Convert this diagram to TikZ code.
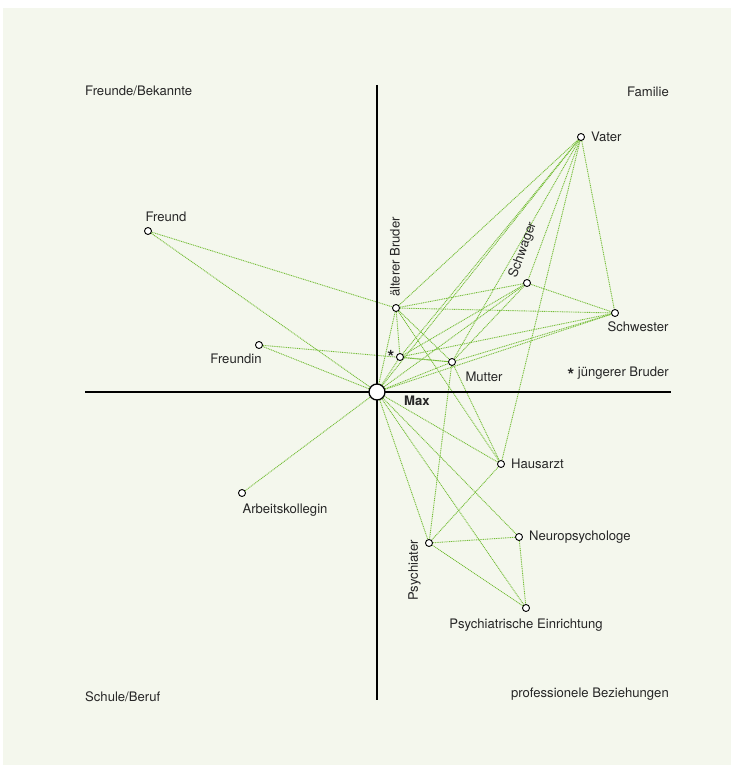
\documentclass[tikz,border=0pt]{standalone}
\usepackage{fontspec}
\setmainfont{TeX Gyre Heros}
\usetikzlibrary{positioning}

\definecolor{paper}{RGB}{244,247,237}
\definecolor{linkgreen}{RGB}{118,190,56}

\pgfdeclarelayer{bg}
\pgfdeclarelayer{links}
\pgfsetlayers{bg,links,main}

\newcommand*{\xleft}{85}
\newcommand*{\xright}{671}
\newcommand*{\ytop}{85}
\newcommand*{\ybottom}{700}
\newcommand*{\younger}{{\fontsize{18}{18}\selectfont\bfseries\raisebox{-0.55ex}{*}}}

\begin{document}
\begin{tikzpicture}
[
	x=1pt, y=-1pt,
	person/.style={circle,draw,fill=white,line width=0.9pt,inner sep=0pt,minimum size=7pt},
	ego/.style={circle,draw,fill=white,line width=1.3pt,inner sep=0pt,minimum size=16pt},
	link/.style={linkgreen,line width=0.9pt,dash pattern=on 1pt off 0.8pt},
	lbl/.style={inner sep=0pt,text=black!85,font=\fontsize{13.1}{15}\selectfont},
	axis/.style={line width=1.3pt,black}
]

	\useasboundingbox (0,0) rectangle (731,765);
	\begin{pgfonlayer}{bg}
		\fill[paper] (3,8) rectangle (731,765);
	\end{pgfonlayer}

	% axes
	\draw[axis] (\xleft,392) -- (\xright,392);
	\draw[axis] (377,\ytop) -- (377,\ybottom);

	% quadrant labels
	\node[lbl,anchor=west] (qfriends) at (85,91) {Freunde/Bekannte};
	\node[lbl,anchor=east] (qfamily) at (669,92) {Familie};
	\node[lbl,anchor=west] (qschool) at (85,697) {Schule/Beruf};
	\node[lbl,anchor=east] (qprof) at (669,694) {professionele Beziehungen};

	% persons
	\node[ego] (max) at (377,392) {};
	\node[person] (vater) at (581,137) {};
	\node[person] (freund) at (148,231) {};
	\node[person] (aeb) at (396,308) {};
	\node[person] (schwager) at (527,283) {};
	\node[person] (schwester) at (615,313) {};
	\node[person] (jb) at (400,357) {};
	\node[person] (mutter) at (452,362) {};
	\node[person] (freundin) at (259,345) {};
	\node[person] (hausarzt) at (501,464) {};
	\node[person] (kollegin) at (242,493) {};
	\node[person] (neuro) at (519,537) {};
	\node[person] (psychiater) at (429,543) {};
	\node[person] (einrichtung) at (526,608) {};

	% person labels
	\node[lbl,font=\fontsize{13.1}{15}\selectfont\bfseries,anchor=north west] (maxlbl) at (404,396) {Max};
	\node[lbl,right=6pt of vater] (vaterlbl) {Vater};
	\node[lbl,above=5pt of freund,xshift=18pt] (freundlbl) {Freund};
	\node[lbl,rotate=90,anchor=west] (aeblbl) at ([xshift=-1pt,yshift=7pt]aeb.north) {älterer Bruder};
	\node[lbl,rotate=70] (schwagerlbl) at (523,250) {Schwager};
	\node[lbl,below=5pt of schwester,xshift=23pt] (schwesterlbl) {Schwester};
	\node[lbl,left=1.5pt of jb] (jblbl) {\younger};
	\node[lbl,below=6pt of mutter,xshift=32pt] (mutterlbl) {Mutter};
	\node[lbl,anchor=east] (jblegend) at (669,374) {\younger\ jüngerer Bruder};
	\node[lbl,below=5pt of freundin,xshift=-23pt] (freundinlbl) {Freundin};
	\node[lbl,right=6pt of hausarzt] (hausarztlbl) {Hausarzt};
	\node[lbl,below=7pt of kollegin,xshift=43pt] (kolleginlbl) {Arbeitskollegin};
	\node[lbl,right=6pt of neuro] (neurolbl) {Neuropsychologe};
	\node[lbl,rotate=90,anchor=east] (psychiaterlbl) at ([xshift=-10.5pt,yshift=3pt]psychiater.west) {Psychiater};
	\node[lbl,below=7pt of einrichtung] (einrichtunglbl) {Psychiatrische Einrichtung};

	% relations
	\begin{pgfonlayer}{links}
		\foreach \a/\b in {freund/max,freund/aeb,freundin/max,freundin/mutter,kollegin/max,
			max/vater,max/aeb,max/jb,max/mutter,max/schwager,max/schwester,
			max/hausarzt,max/neuro,max/psychiater,max/einrichtung,
			vater/aeb,vater/jb,vater/mutter,vater/schwager,vater/schwester,vater/hausarzt,
			aeb/jb,aeb/mutter,aeb/schwager,aeb/schwester,aeb/hausarzt,
			jb/mutter,jb/schwager,jb/schwester,
			mutter/schwager,mutter/schwester,mutter/hausarzt,mutter/psychiater,
			schwager/schwester,
			psychiater/hausarzt,psychiater/neuro,psychiater/einrichtung,neuro/einrichtung} {
			\draw[link] (\a) -- (\b);
		}
	\end{pgfonlayer}

\end{tikzpicture}
\end{document}
